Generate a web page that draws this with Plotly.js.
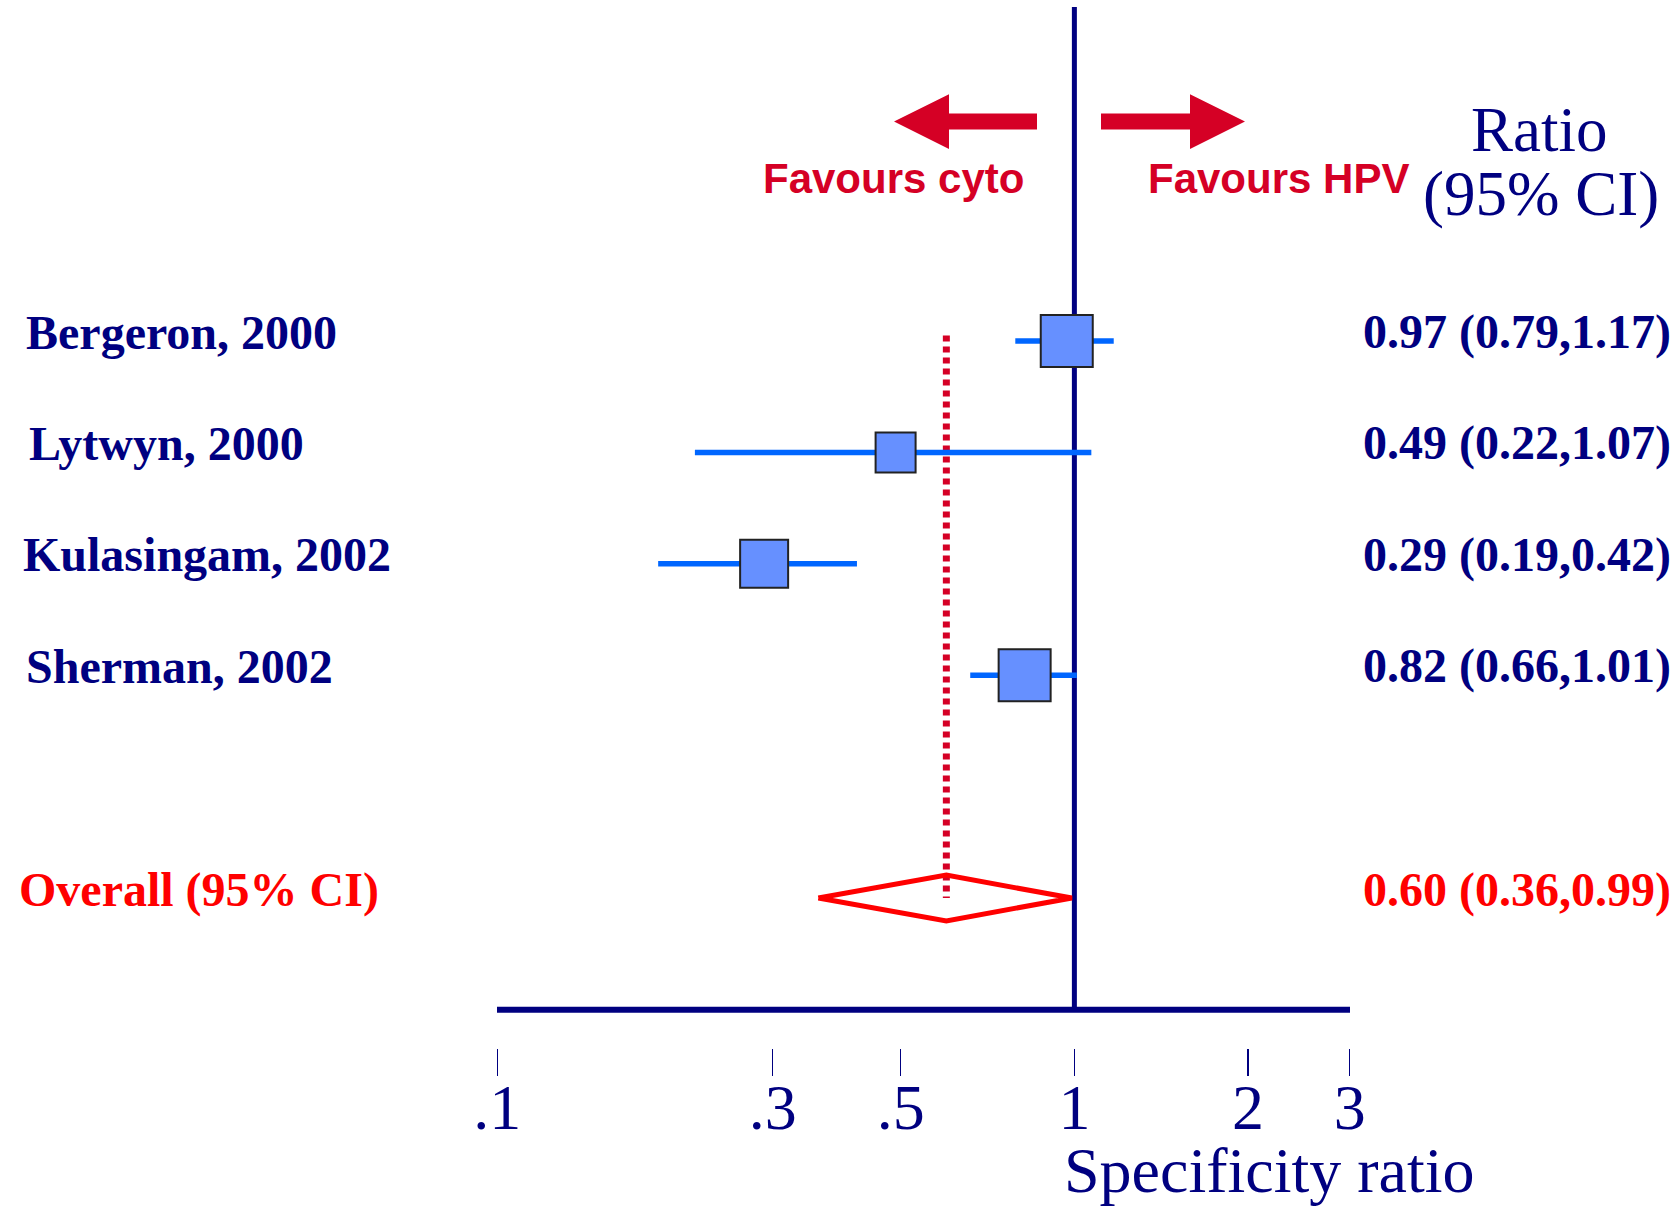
<!DOCTYPE html>
<html>
<head>
<meta charset="utf-8">
<script src="https://cdn.plot.ly/plotly-3.0.1.min.js"></script>
<style>html,body{margin:0;padding:0;background:#fff;}#chart{width:1677px;height:1206px;}</style>
</head>
<body>
<div id="chart"></div>
<script>
// ---------------- data ----------------
const studies = ["Bergeron, 2000", "Lytwyn, 2000", "Kulasingam, 2002", "Sherman, 2002"];
const ratio   = [0.97, 0.49, 0.29, 0.82];
const lower   = [0.79, 0.22, 0.19, 0.66];
const upper   = [1.17, 1.07, 0.42, 1.01];
const overallLabel = "Overall (95% CI)";
const overallRatio = 0.60;
const overallLower = 0.36;
const overallUpper = 0.99;
const tickValues = [0.1, 0.3, 0.5, 1, 2, 3];
const tickLabels = [".1", ".3", ".5", "1", "2", "3"];
const xTitle = "Specificity ratio";
const leftFavour = "Favours cyto";
const rightFavour = "Favours HPV";
const headerLines = ["Ratio", "(95% CI)"];

// ---------------- style ----------------
const NAVY = "#000080", CRIMSON = "#d50025", RED = "#ff0000";
const CI_BLUE = "#0066ff", BOX_FILL = "#6690ff", BOX_EDGE = "#222222";
const boxSizes = [52, 40, 48, 52];
const labelLeftPx = [24, 27, 21, 23.5];
const W = 1677, H = 1206;
const L = 497, R = 1350, T = 7, B = 1048;
const xRange = [-1.0005, 0.4776];
const rowPx = 111.4;
const yRange = [1 + (B - 341) / rowPx, 1 - (341 - T) / rowPx];
const rows = studies.map((s, i) => i + 1);
const overallRow = studies.length + 2;

const xp = v => (Math.log10(v) - xRange[0]) / (xRange[1] - xRange[0]); // data -> paper
const pxX = p => (p - L) / (R - L);   // pixel -> paper
const pxY = p => (B - p) / (B - T);

const serif = "Liberation Serif, Times New Roman, serif";
const sans = "Liberation Sans, Arial, sans-serif";

// ---------------- traces ----------------
const ciX = [], ciY = [];
studies.forEach((s, i) => { ciX.push(lower[i], upper[i], null); ciY.push(rows[i], rows[i], null); });

const h = 0.205;
const traces = [
  { x: [overallRatio, overallRatio], y: [0.95, overallRow], mode: "lines",
    line: { color: CRIMSON, width: 7, dash: "6px,5px" }, hoverinfo: "skip" },
  { x: ciX, y: ciY, mode: "lines", line: { color: CI_BLUE, width: 5.5 }, hoverinfo: "skip" },
  { x: ratio, y: rows, mode: "markers",
    marker: { symbol: "square", size: boxSizes, opacity: 1, color: BOX_FILL, line: { color: BOX_EDGE, width: 2 } },
    hoverinfo: "skip" },
  { x: [overallLower, overallRatio, overallUpper, overallRatio, overallLower],
    y: [overallRow, overallRow - h, overallRow, overallRow + h, overallRow],
    mode: "lines", line: { color: RED, width: 5 }, hoverinfo: "skip" }
];

// ---------------- shapes ----------------
const axisLineY = pxY(1009.7);
function arrowPath(pts) {
  return "M " + pts.map(p => pxX(p[0]) + "," + pxY(p[1])).join(" L ") + " Z";
}
const shapes = [
  { type: "line", xref: "paper", yref: "paper", x0: 0, x1: 1, y0: axisLineY, y1: axisLineY,
    line: { color: NAVY, width: 6 }, layer: "below" },
  { type: "line", xref: "paper", yref: "paper", x0: xp(1), x1: xp(1), y0: axisLineY, y1: 1,
    line: { color: NAVY, width: 5 }, layer: "below" },
  { type: "path", xref: "paper", yref: "paper", fillcolor: CRIMSON, line: { width: 0 },
    path: arrowPath([[894,121.5],[949,94.3],[949,113.5],[1037,113.5],[1037,129.5],[949,129.5],[949,149]]) },
  { type: "path", xref: "paper", yref: "paper", fillcolor: CRIMSON, line: { width: 0 },
    path: arrowPath([[1245,121.5],[1190,94.3],[1190,113.5],[1101,113.5],[1101,129.5],[1190,129.5],[1190,149]]) }
];

// ---------------- annotations ----------------
const fmt = (r, lo, hi) => r.toFixed(2) + " (" + lo.toFixed(2) + "," + hi.toFixed(2) + ")";
const annotations = [];
studies.forEach((s, i) => {
  annotations.push({ text: "<b>" + s + "</b>", xref: "paper", yref: "y", x: pxX(labelLeftPx[i]), y: rows[i],
    xanchor: "left", yanchor: "middle", yshift: 9, showarrow: false,
    font: { family: serif, size: 48, color: NAVY } });
  annotations.push({ text: "<b>" + fmt(ratio[i], lower[i], upper[i]) + "</b>", xref: "paper", yref: "y",
    x: pxX(1673), y: rows[i], xanchor: "right", yanchor: "middle", yshift: 9, showarrow: false,
    font: { family: serif, size: 48, color: NAVY } });
});
annotations.push({ text: "<b>" + overallLabel + "</b>", xref: "paper", yref: "y", x: pxX(17), y: overallRow,
  xanchor: "left", yanchor: "middle", yshift: 8, showarrow: false, font: { family: serif, size: 48, color: RED } });
annotations.push({ text: "<b>" + fmt(overallRatio, overallLower, overallUpper) + "</b>", xref: "paper", yref: "y",
  x: pxX(1673), y: overallRow, xanchor: "right", yanchor: "middle", yshift: 8, showarrow: false,
  font: { family: serif, size: 48, color: RED } });
annotations.push({ text: "<b>" + leftFavour + "</b>", xref: "paper", yref: "paper", x: pxX(893), y: pxY(178.5),
  xanchor: "center", yanchor: "middle", showarrow: false, font: { family: sans, size: 42, color: CRIMSON } });
annotations.push({ text: "<b>" + rightFavour + "</b>", xref: "paper", yref: "paper", x: pxX(1278), y: pxY(178.5),
  xanchor: "center", yanchor: "middle", showarrow: false, font: { family: sans, size: 42, color: CRIMSON } });
annotations.push({ text: headerLines[0], xref: "paper", yref: "paper", x: pxX(1539), y: pxY(130),
  xanchor: "center", yanchor: "middle", showarrow: false, font: { family: serif, size: 63, color: NAVY } });
annotations.push({ text: headerLines[1], xref: "paper", yref: "paper", x: pxX(1541), y: pxY(193.5),
  xanchor: "center", yanchor: "middle", showarrow: false, font: { family: serif, size: 63, color: NAVY } });
annotations.push({ text: xTitle, xref: "paper", yref: "paper", x: pxX(1269), y: pxY(1170),
  xanchor: "center", yanchor: "middle", showarrow: false, font: { family: serif, size: 64, color: NAVY } });

const layout = {
  width: W, height: H,
  margin: { l: L, r: W - R, t: T, b: H - B, pad: 0 },
  paper_bgcolor: "#ffffff", plot_bgcolor: "#ffffff",
  showlegend: false, hovermode: false,
  xaxis: { type: "log", range: xRange, showgrid: false, zeroline: false, showline: false,
    ticks: "outside", ticklen: 27, tickwidth: 1.3, tickcolor: NAVY,
    tickmode: "array", tickvals: tickValues, ticktext: tickLabels, ticklabelstandoff: -24,
    tickfont: { family: serif, size: 64, color: NAVY }, fixedrange: true },
  yaxis: { range: yRange, showgrid: false, zeroline: false, showline: false, showticklabels: false,
    ticks: "", fixedrange: true },
  shapes: shapes, annotations: annotations
};

Plotly.newPlot("chart", traces, layout, { staticPlot: true, displayModeBar: false });
</script>
</body>
</html>
